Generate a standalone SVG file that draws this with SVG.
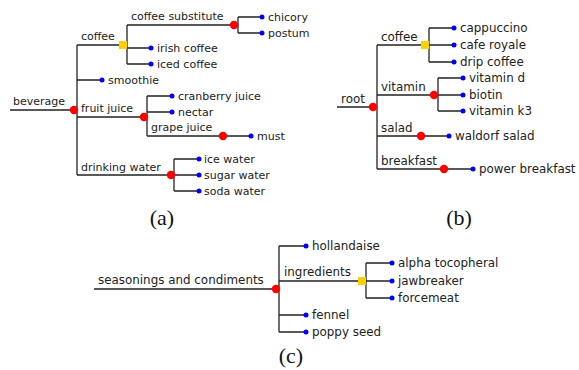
<svg xmlns="http://www.w3.org/2000/svg" width="579" height="370" viewBox="0 0 579 370">
<style>
.e{stroke:#222;stroke-width:1.3;fill:none}
.t{font-family:"DejaVu Sans",Verdana,sans-serif;font-size:11px;fill:#222}
.t2{font-family:"DejaVu Sans",Verdana,sans-serif;font-size:11.9px;fill:#222}
.cap{font-family:"Liberation Serif","Times New Roman",serif;font-size:22px;fill:#111;text-anchor:middle}
.r{fill:#f00}
.y{fill:#fcd000}
.b{fill:#00f}
</style>
<rect width="579" height="370" fill="#fff"/>
<g id="connectors" class="e">
<!-- panel a -->
<path d="M10 110H74M77 45V175M77 45H123M127 25V64M127 25H234M238 17V33M238 17H262M238 33H262M127 48H151M127 64H151M77 80H102M77 117H144M147 96V136M147 96H172M147 112H172M147 136H223H251M77 175H171M174 159V191M174 159H199M174 175H199M174 191H199"/>
<!-- panel b -->
<path d="M337 107H373M377 45V169M377 45H425M429 28V62M429 28H454M429 45H454M429 62H454M377 95H434M438 78V111M438 78H463M438 95H463M438 111H463M377 136H421H449M377 169H444H473"/>
<!-- panel c -->
<path d="M94 289H276M279 246V332M279 246H306M279 281H362M366 263V298M366 263H392M366 281H392M366 298H392M279 315H306M279 332H306"/>
</g>
<g id="beverage"><circle class="r" cx="74" cy="110" r="4.2"/><text class="t" x="13" y="105">beverage</text></g>
<g id="coffee-a"><rect class="y" x="119" y="41" width="8" height="8"/><text class="t" x="81" y="40">coffee</text></g>
<g id="coffee-substitute"><circle class="r" cx="234" cy="25" r="4.2"/><text class="t" x="131" y="20">coffee substitute</text></g>
<g id="chicory"><circle class="b" cx="262" cy="17" r="2.5"/><text class="t" x="268" y="21">chicory</text></g>
<g id="postum"><circle class="b" cx="262" cy="33" r="2.5"/><text class="t" x="268" y="37">postum</text></g>
<g id="irish-coffee"><circle class="b" cx="151" cy="48" r="2.5"/><text class="t" x="157" y="52">irish coffee</text></g>
<g id="iced-coffee"><circle class="b" cx="151" cy="64" r="2.5"/><text class="t" x="157" y="68">iced coffee</text></g>
<g id="smoothie"><circle class="b" cx="102" cy="80" r="2.5"/><text class="t" x="108" y="84">smoothie</text></g>
<g id="fruit-juice"><circle class="r" cx="144" cy="117" r="4.2"/><text class="t" x="81" y="112">fruit juice</text></g>
<g id="cranberry-juice"><circle class="b" cx="172" cy="96" r="2.5"/><text class="t" x="178" y="100">cranberry juice</text></g>
<g id="nectar"><circle class="b" cx="172" cy="112" r="2.5"/><text class="t" x="178" y="116">nectar</text></g>
<g id="grape-juice"><circle class="r" cx="223" cy="136" r="4.2"/><text class="t" x="151" y="131">grape juice</text></g>
<g id="must"><circle class="b" cx="251" cy="136" r="2.5"/><text class="t" x="257" y="140">must</text></g>
<g id="drinking-water"><circle class="r" cx="171" cy="175" r="4.2"/><text class="t" x="81" y="171">drinking water</text></g>
<g id="ice-water"><circle class="b" cx="199" cy="159" r="2.5"/><text class="t" x="204" y="163">ice water</text></g>
<g id="sugar-water"><circle class="b" cx="199" cy="175" r="2.5"/><text class="t" x="204" y="179">sugar water</text></g>
<g id="soda-water"><circle class="b" cx="199" cy="191" r="2.5"/><text class="t" x="204" y="195">soda water</text></g>

<g id="root"><circle class="r" cx="373" cy="107" r="4.2"/><text class="t2" x="341" y="103">root</text></g>
<g id="coffee-b"><rect class="y" x="421" y="41" width="8" height="8"/><text class="t2" x="381" y="41">coffee</text></g>
<g id="cappuccino"><circle class="b" cx="454" cy="28" r="2.5"/><text class="t2" x="460" y="32">cappuccino</text></g>
<g id="cafe-royale"><circle class="b" cx="454" cy="45" r="2.5"/><text class="t2" x="460" y="49">cafe royale</text></g>
<g id="drip-coffee"><circle class="b" cx="454" cy="62" r="2.5"/><text class="t2" x="460" y="66">drip coffee</text></g>
<g id="vitamin"><circle class="r" cx="434" cy="95" r="4.2"/><text class="t2" x="381" y="91">vitamin</text></g>
<g id="vitamin-d"><circle class="b" cx="463" cy="78" r="2.5"/><text class="t2" x="469" y="82">vitamin d</text></g>
<g id="biotin"><circle class="b" cx="463" cy="95" r="2.5"/><text class="t2" x="469" y="99">biotin</text></g>
<g id="vitamin-k3"><circle class="b" cx="463" cy="111" r="2.5"/><text class="t2" x="469" y="115">vitamin k3</text></g>
<g id="salad"><circle class="r" cx="421" cy="136" r="4.2"/><text class="t2" x="381" y="132">salad</text></g>
<g id="waldorf-salad"><circle class="b" cx="449" cy="136" r="2.5"/><text class="t2" x="455" y="140">waldorf salad</text></g>
<g id="breakfast"><circle class="r" cx="444" cy="169" r="4.2"/><text class="t2" x="381" y="165">breakfast</text></g>
<g id="power-breakfast"><circle class="b" cx="473" cy="169" r="2.5"/><text class="t2" x="479" y="173">power breakfast</text></g>

<g id="seasonings"><circle class="r" cx="276" cy="289" r="4.2"/><text class="t2" x="98" y="284">seasonings and condiments</text></g>
<g id="hollandaise"><circle class="b" cx="306" cy="246" r="2.5"/><text class="t2" x="312" y="250">hollandaise</text></g>
<g id="ingredients"><rect class="y" x="358" y="277" width="8" height="8"/><text class="t2" x="284" y="276">ingredients</text></g>
<g id="alpha-tocopheral"><circle class="b" cx="392" cy="263" r="2.5"/><text class="t2" x="398" y="267">alpha tocopheral</text></g>
<g id="jawbreaker"><circle class="b" cx="392" cy="281" r="2.5"/><text class="t2" x="398" y="285">jawbreaker</text></g>
<g id="forcemeat"><circle class="b" cx="392" cy="298" r="2.5"/><text class="t2" x="398" y="302">forcemeat</text></g>
<g id="fennel"><circle class="b" cx="306" cy="315" r="2.5"/><text class="t2" x="312" y="319">fennel</text></g>
<g id="poppy-seed"><circle class="b" cx="306" cy="332" r="2.5"/><text class="t2" x="312" y="336">poppy seed</text></g>

<text class="cap" x="162" y="225">(a)</text>
<text class="cap" x="459" y="225">(b)</text>
<text class="cap" x="291" y="363">(c)</text>
</svg>
